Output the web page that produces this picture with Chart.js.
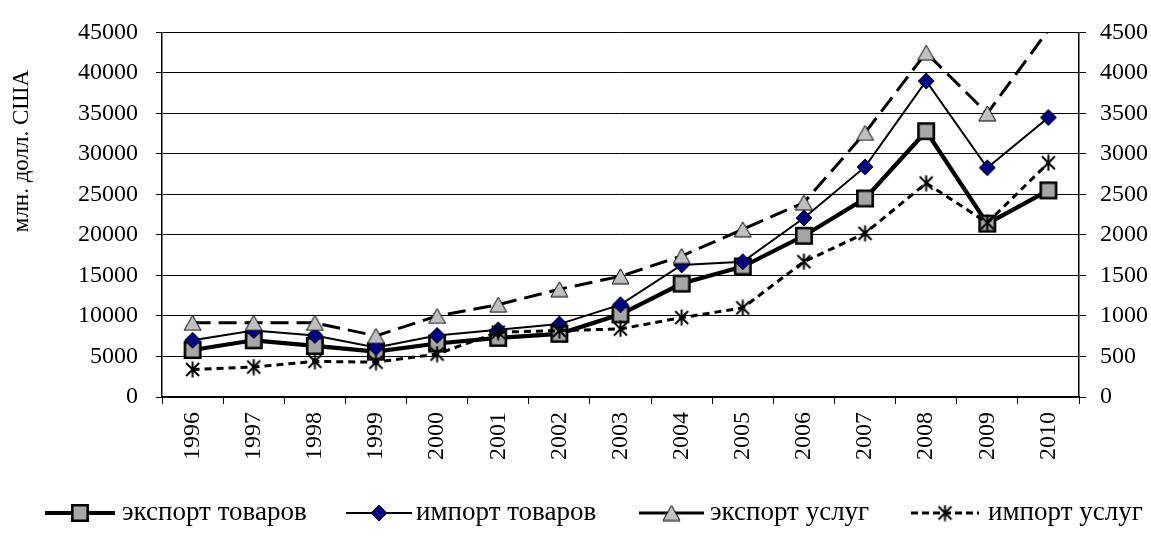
<!DOCTYPE html>
<html>
<head>
<meta charset="utf-8">
<script src="https://cdn.jsdelivr.net/npm/chart.js@4"></script>
<style>
  html, body { margin: 0; padding: 0; background: #fff; }
  #wrap { width: 1151px; height: 542px; position: relative; }
</style>
</head>
<body>
<div id="wrap"><canvas id="c" width="1151" height="542"></canvas></div>
<script>
// ---- data ----
const years = ['1996','1997','1998','1999','2000','2001','2002','2003','2004','2005','2006','2007','2008','2009','2010'];
const exportGoods    = [5800, 7000, 6300, 5600, 6600, 7300, 7800, 10200, 14000, 16100, 19900, 24500, 32800, 21400, 25500];
const importGoods    = [7000, 8200, 7600, 6100, 7600, 8300, 9000, 11400, 16300, 16700, 22100, 28400, 39000, 28300, 34500];
const exportServices = [915, 915, 915, 755, 1000, 1140, 1330, 1490, 1740, 2070, 2400, 3260, 4250, 3500, 4530];
const importServices = [340, 370, 440, 430, 530, 800, 820, 840, 980, 1100, 1670, 2020, 2640, 2150, 2890];
const seriesNames = ['экспорт товаров', 'импорт товаров', 'экспорт услуг', 'импорт услуг'];
const leftTicksMax = 45000, leftStep = 5000;
const rightTicksMax = 4500, rightStep = 500;
const yTitle = 'млн. долл. США';

const FONT = "'Liberation Serif', 'Times New Roman', serif";

// ---- marker images ----
function mk(w, h, draw) {
  const c = document.createElement('canvas');
  c.width = w; c.height = h;
  const g = c.getContext('2d');
  draw(g, w, h);
  return c;
}
const squareImg = mk(20, 20, (g) => {
  g.fillStyle = '#a6a6a6'; g.strokeStyle = '#000'; g.lineWidth = 2.6;
  g.beginPath(); g.rect(2.3, 2.3, 15.4, 15.4); g.fill(); g.stroke();
});
const diamondImg = mk(18, 18, (g) => {
  g.fillStyle = '#000080'; g.strokeStyle = '#000'; g.lineWidth = 1;
  g.beginPath(); g.moveTo(9, 1); g.lineTo(17, 9); g.lineTo(9, 17); g.lineTo(1, 9); g.closePath();
  g.fill(); g.stroke();
});
const triangleImg = mk(19, 17, (g) => {
  g.fillStyle = '#c0c0c0'; g.strokeStyle = '#000'; g.lineWidth = 1;
  g.beginPath(); g.moveTo(9.5, 1); g.lineTo(18, 16); g.lineTo(1, 16); g.closePath();
  g.fill(); g.stroke();
});
const starImg = mk(17, 17, (g) => {
  g.strokeStyle = '#000'; g.lineWidth = 2; g.lineCap = 'butt';
  g.beginPath();
  g.moveTo(2, 2); g.lineTo(15, 15);
  g.moveTo(15, 2); g.lineTo(2, 15);
  g.moveTo(8.5, 0.5); g.lineTo(8.5, 16.5);
  g.stroke();
});

const hideAbove = (max, r) => (ctx) => (ctx.raw > max ? 0 : r);

const styles = [
  { color: '#000', width: 4.2, dash: [], legendDash: [], img: squareImg },
  { color: '#000', width: 2, dash: [], legendDash: [], img: diamondImg },
  { color: '#000', width: 3, dash: [18, 8], legendDash: [], img: triangleImg },
  { color: '#000', width: 3, dash: [7, 5], legendDash: [7, 4], img: starImg }
];

// ---- plugins ----
const axisTitlePlugin = {
  id: 'axisTitle',
  afterDraw(chart) {
    const ctx = chart.ctx;
    ctx.save();
    ctx.translate(22, 151);
    ctx.rotate(-Math.PI / 2);
    ctx.font = '23px ' + FONT;
    ctx.fillStyle = '#000';
    ctx.textAlign = 'center';
    ctx.textBaseline = 'middle';
    ctx.fillText(yTitle, 0, 0);
    ctx.restore();
  }
};

const legendItems = [
  { x1: 45, x2: 115, text: 122 },
  { x1: 346, x2: 412, text: 416 },
  { x1: 639, x2: 704, text: 710 },
  { x1: 911, x2: 979, text: 988 }
];
const customLegend = {
  id: 'customLegend',
  afterDraw(chart) {
    const ctx = chart.ctx;
    const y = 513;
    ctx.save();
    legendItems.forEach((it, i) => {
      const st = styles[i];
      ctx.strokeStyle = st.color;
      ctx.lineWidth = st.width;
      ctx.setLineDash(st.legendDash);
      ctx.beginPath(); ctx.moveTo(it.x1, y); ctx.lineTo(it.x2, y); ctx.stroke();
      ctx.setLineDash([]);
      const img = st.img;
      const cx = (it.x1 + it.x2) / 2;
      ctx.drawImage(img, cx - img.width / 2, y - img.height / 2);
      ctx.font = '27px ' + FONT;
      ctx.fillStyle = '#000';
      ctx.textAlign = 'left';
      ctx.textBaseline = 'middle';
      ctx.fillText(seriesNames[i], it.text, y);
    });
    ctx.restore();
  }
};

const allSeries = [exportGoods, importGoods, exportServices, importServices];
const axes = ['yL', 'yL', 'yR', 'yR'];

const datasets = allSeries.map((data, i) => ({
  label: seriesNames[i],
  data: data,
  yAxisID: axes[i],
  borderColor: styles[i].color,
  borderWidth: styles[i].width,
  borderDash: styles[i].dash,
  backgroundColor: '#000',
  pointStyle: styles[i].img,
  pointRadius: axes[i] === 'yR' ? hideAbove(rightTicksMax, 8) : hideAbove(leftTicksMax, 8),
  pointHoverRadius: 8,
  tension: 0,
  fill: false,
  clip: 0,
  order: 4 - i
}));

const plainTick = (v) => String(v);

new Chart(document.getElementById('c'), {
  type: 'line',
  data: { labels: years, datasets: datasets },
  options: {
    responsive: false,
    animation: false,
    devicePixelRatio: 1,
    layout: { padding: { left: 0, right: 0, top: 23, bottom: 60 } },
    plugins: { legend: { display: false }, tooltip: { enabled: false } },
    scales: {
      x: {
        type: 'category',
        offset: true,
        grid: { display: true, drawOnChartArea: false, drawTicks: true, tickLength: 7, offset: true, color: '#000', lineWidth: 1 },
        border: { display: true, color: '#000', width: 1.5 },
        ticks: { autoSkip: false, maxRotation: 90, minRotation: 90, padding: 8, color: '#000', font: { family: FONT, size: 24 } },
        afterFit(s) { s.height = 85; }
      },
      yL: {
        type: 'linear', position: 'left', min: 0, max: leftTicksMax,
        ticks: { stepSize: leftStep, padding: 18, color: '#000', font: { family: FONT, size: 24 }, callback: plainTick },
        grid: { color: '#000', lineWidth: 1, drawTicks: true, tickLength: 6 },
        border: { display: true, color: '#000', width: 1.5 },
        afterFit(s) { s.width = 162; }
      },
      yR: {
        type: 'linear', position: 'right', min: 0, max: rightTicksMax,
        ticks: { stepSize: rightStep, padding: 14, color: '#000', font: { family: FONT, size: 24 }, callback: plainTick },
        grid: { drawOnChartArea: false, color: '#000', lineWidth: 1, drawTicks: true, tickLength: 7 },
        border: { display: true, color: '#000', width: 1.5 },
        afterFit(s) { s.width = 72; }
      }
    }
  },
  plugins: [axisTitlePlugin, customLegend]
});
</script>
</body>
</html>
